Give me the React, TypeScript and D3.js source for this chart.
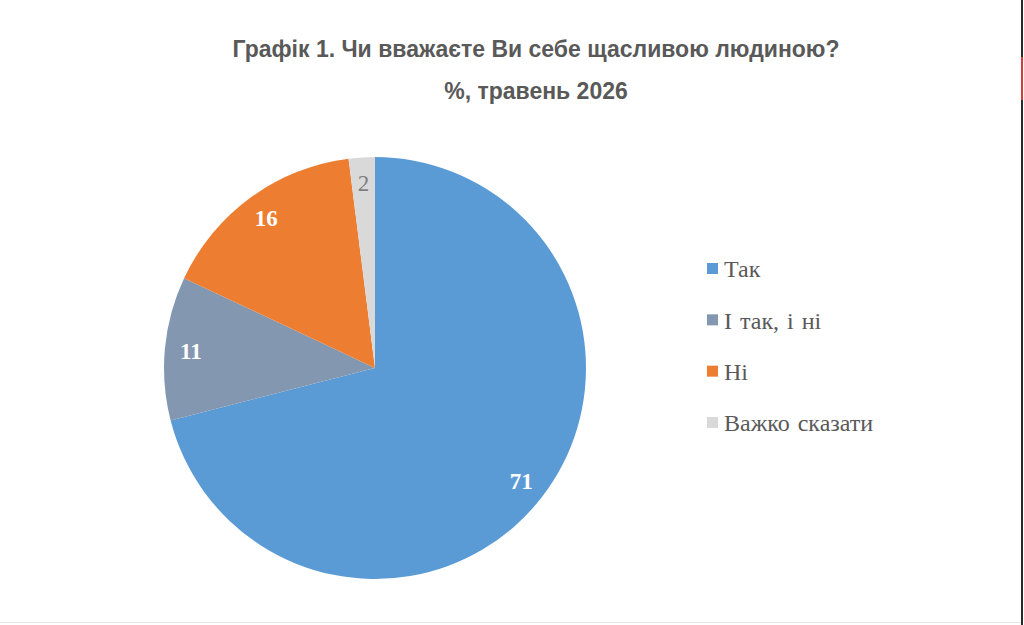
import React, { useEffect, useRef } from 'react'
import * as d3 from 'd3'

const categories = ['Так', 'І так, і ні', 'Ні', 'Важко сказати']
const values = [71, 11, 16, 2]
const colors = ['#5B9BD5', '#8497B0', '#ED7D31', '#D9D9D9']
const labelColors = ['#FFFFFF', '#FFFFFF', '#FFFFFF', '#7F7F7F']
const titleLines = ['Графік 1. Чи вважаєте Ви себе щасливою людиною?', '%, травень 2026']

const W = 1024
const H = 625

const PieChart: React.FC = () => {
  const ref = useRef<HTMLDivElement>(null)

  useEffect(() => {
    if (!ref.current) return
    const container = ref.current

    const svg = d3
      .select(container)
      .append('svg')
      .attr('width', W)
      .attr('height', H)
      .style('display', 'block')

    svg.append('rect').attr('width', W).attr('height', H).attr('fill', '#FFFFFF')

    // title
    svg
      .selectAll('.title')
      .data(titleLines)
      .enter()
      .append('text')
      .attr('class', 'title')
      .attr('x', 536)
      .attr('y', (_, i) => 57 + i * 42)
      .attr('text-anchor', 'middle')
      .attr('font-family', '"Liberation Sans", Arial, sans-serif')
      .attr('font-weight', 'bold')
      .attr('font-size', '23px')
      .attr('fill', '#595959')
      .text(d => d)

    // pie
    const cx = 375
    const cy = 368
    const radius = 211

    const pie = d3
      .pie<number>()
      .sort(null)
      .value(d => d)

    const arcs = pie(values)
    const arc = d3.arc<d3.PieArcDatum<number>>().innerRadius(0).outerRadius(radius)
    const labelArc = d3.arc<d3.PieArcDatum<number>>().innerRadius(185).outerRadius(185)

    const g = svg.append('g').attr('transform', `translate(${cx},${cy})`)

    g.selectAll('path')
      .data(arcs)
      .enter()
      .append('path')
      .attr('d', arc)
      .attr('fill', (_, i) => colors[i])

    g.selectAll('.label')
      .data(arcs)
      .enter()
      .append('text')
      .attr('class', 'label')
      .attr('transform', d => `translate(${labelArc.centroid(d)})`)
      .attr('text-anchor', 'middle')
      .attr('dy', '0.35em')
      .attr('font-family', '"Liberation Serif", "Times New Roman", serif')
      .attr('font-weight', (_, i) => (i === 3 ? 'normal' : 'bold'))
      .attr('font-size', '23px')
      .attr('fill', (_, i) => labelColors[i])
      .text(d => d.data)

    // legend
    const legendY = d3.scalePoint<string>().domain(categories).range([269, 423])

    const legend = svg
      .selectAll('.legend')
      .data(categories)
      .enter()
      .append('g')
      .attr('class', 'legend')
      .attr('transform', d => `translate(707,${legendY(d)})`)

    legend
      .append('rect')
      .attr('x', 0)
      .attr('y', -6)
      .attr('width', 11)
      .attr('height', 11)
      .attr('fill', (_, i) => colors[i])

    legend
      .append('text')
      .attr('x', 17)
      .attr('dy', '0.35em')
      .attr('font-family', '"Liberation Serif", "Times New Roman", serif')
      .attr('font-size', '24px')
      .attr('word-spacing', '2px')
      .attr('fill', '#595959')
      .text(d => d)

    // frame edges
    svg.append('line').attr('x1', 1022).attr('x2', 1022).attr('y1', 0).attr('y2', H)
      .attr('stroke', '#2A2A2A').attr('stroke-width', 2)
    svg.append('line').attr('x1', 1022).attr('x2', 1022).attr('y1', 57).attr('y2', 100)
      .attr('stroke', '#D93A3A').attr('stroke-width', 2)
    svg.append('line').attr('x1', 0).attr('x2', 1021).attr('y1', 622.5).attr('y2', 622.5)
      .attr('stroke', '#E4E4E4').attr('stroke-width', 1)

    return () => {
      svg.remove()
    }
  }, [])

  return <div ref={ref} style={{ position: 'fixed', left: 0, top: 0, width: W, height: H }} />
}

export default PieChart
